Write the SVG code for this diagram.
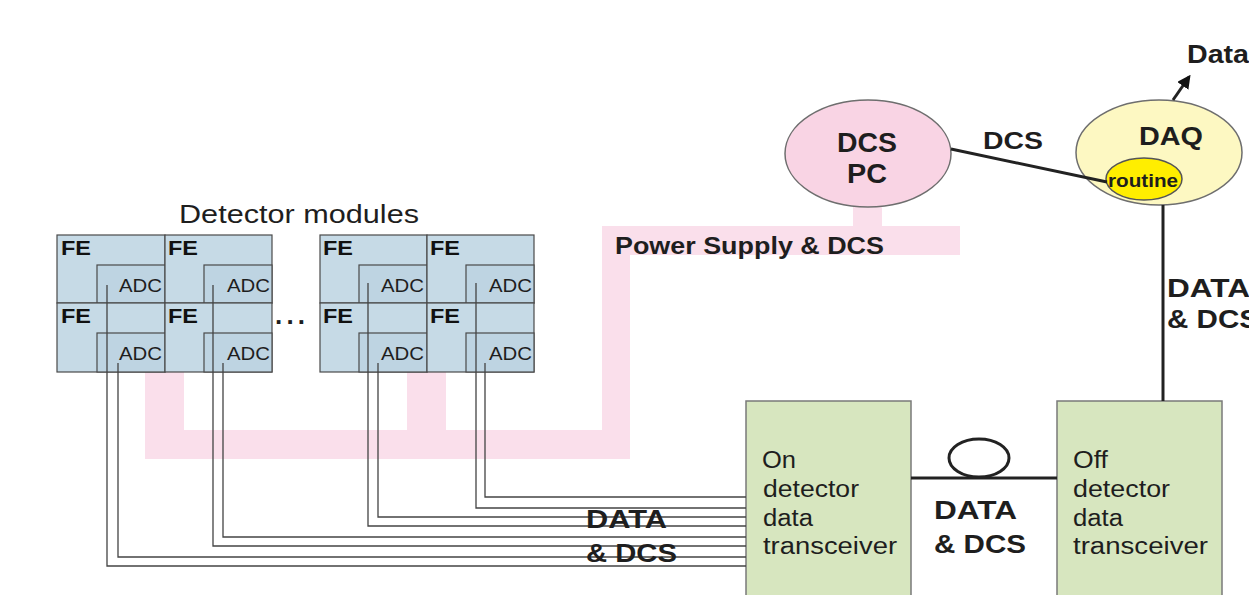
<svg xmlns="http://www.w3.org/2000/svg" width="1249" height="595" viewBox="0 0 1249 595">
<defs>
<style>
.fe{fill:#c6dae6;stroke:#4a4a4a;stroke-width:1.2}
.adc{fill:#bed4e2;stroke:#4a4a4a;stroke-width:1.2}
.t{font-family:"Liberation Sans",Arial,sans-serif;fill:#1e1e1e}
.b{font-weight:bold}
.fel{font-size:21px;font-weight:bold;fill:#111}
.adcl{font-size:18px}
.box{fill:#d7e6bf;stroke:#7a7a7a;stroke-width:1.5}
.pink{fill:#fadfeb}
.wire{fill:none;stroke:#444;stroke-width:1.3}
.thick{fill:none;stroke:#222;stroke-width:3}
.bt{font-size:23px}
</style>
<marker id="ah" viewBox="0 0 10 10" refX="8" refY="5" markerWidth="4.5" markerHeight="4.5" orient="auto">
<path d="M0,0 L10,5 L0,10 z" fill="#111"/>
</marker>
</defs>
<rect width="1249" height="595" fill="#fff"/>

<g id="power-supply">
<rect class="pink" x="145" y="372" width="39" height="87"/>
<rect class="pink" x="407" y="372" width="39" height="58"/>
<rect class="pink" x="145" y="430" width="485" height="29"/>
<rect class="pink" x="602" y="226" width="28" height="233"/>
<rect class="pink" x="602" y="226" width="358" height="29"/>
<rect class="pink" x="853" y="200" width="29" height="26"/>
<text class="t b" x="615" y="254" font-size="23" textLength="269" lengthAdjust="spacingAndGlyphs">Power Supply &amp; DCS</text>
</g>

<text class="t" x="179" y="223" font-size="25" textLength="240" lengthAdjust="spacingAndGlyphs">Detector modules</text>

<g id="module-1">
<rect class="fe" x="57" y="235" width="108" height="68"/>
<rect class="adc" x="97" y="265" width="68" height="38"/>
<text class="t fel" x="61" y="255" textLength="30" lengthAdjust="spacingAndGlyphs">FE</text>
<text class="t adcl" x="119" y="292" textLength="43" lengthAdjust="spacingAndGlyphs">ADC</text>
</g>
<g id="module-2">
<rect class="fe" x="165" y="235" width="107" height="68"/>
<rect class="adc" x="204" y="265" width="68" height="38"/>
<text class="t fel" x="168" y="255" textLength="30" lengthAdjust="spacingAndGlyphs">FE</text>
<text class="t adcl" x="227" y="292" textLength="43" lengthAdjust="spacingAndGlyphs">ADC</text>
</g>
<g id="module-3">
<rect class="fe" x="57" y="303" width="108" height="69"/>
<rect class="adc" x="97" y="333" width="68" height="39"/>
<text class="t fel" x="61" y="323" textLength="30" lengthAdjust="spacingAndGlyphs">FE</text>
<text class="t adcl" x="119" y="360" textLength="43" lengthAdjust="spacingAndGlyphs">ADC</text>
</g>
<g id="module-4">
<rect class="fe" x="165" y="303" width="107" height="69"/>
<rect class="adc" x="204" y="333" width="68" height="39"/>
<text class="t fel" x="168" y="323" textLength="30" lengthAdjust="spacingAndGlyphs">FE</text>
<text class="t adcl" x="227" y="360" textLength="43" lengthAdjust="spacingAndGlyphs">ADC</text>
</g>

<text class="t b" x="275" y="324" font-size="26" fill="#111" textLength="30" lengthAdjust="spacing">...</text>

<g id="module-5">
<rect class="fe" x="320" y="235" width="107" height="68"/>
<rect class="adc" x="359" y="265" width="68" height="38"/>
<text class="t fel" x="323" y="255" textLength="30" lengthAdjust="spacingAndGlyphs">FE</text>
<text class="t adcl" x="381" y="292" textLength="43" lengthAdjust="spacingAndGlyphs">ADC</text>
</g>
<g id="module-6">
<rect class="fe" x="427" y="235" width="107" height="68"/>
<rect class="adc" x="466" y="265" width="68" height="38"/>
<text class="t fel" x="430" y="255" textLength="30" lengthAdjust="spacingAndGlyphs">FE</text>
<text class="t adcl" x="489" y="292" textLength="43" lengthAdjust="spacingAndGlyphs">ADC</text>
</g>
<g id="module-7">
<rect class="fe" x="320" y="303" width="107" height="69"/>
<rect class="adc" x="359" y="333" width="68" height="39"/>
<text class="t fel" x="323" y="323" textLength="30" lengthAdjust="spacingAndGlyphs">FE</text>
<text class="t adcl" x="381" y="360" textLength="43" lengthAdjust="spacingAndGlyphs">ADC</text>
</g>
<g id="module-8">
<rect class="fe" x="427" y="303" width="107" height="69"/>
<rect class="adc" x="466" y="333" width="68" height="39"/>
<text class="t fel" x="430" y="323" textLength="30" lengthAdjust="spacingAndGlyphs">FE</text>
<text class="t adcl" x="489" y="360" textLength="43" lengthAdjust="spacingAndGlyphs">ADC</text>
</g>

<g id="dcs-pc">
<ellipse cx="868" cy="153.5" rx="83" ry="53.5" fill="#f9d4e4" stroke="#6e6e6e" stroke-width="1.5"/>
<text class="t b" x="837" y="152" font-size="27" textLength="60" lengthAdjust="spacingAndGlyphs">DCS</text>
<text class="t b" x="847" y="183" font-size="27" textLength="40" lengthAdjust="spacingAndGlyphs">PC</text>
</g>

<g id="daq">
<ellipse cx="1159" cy="152.5" rx="83" ry="52.5" fill="#fdf8c2" stroke="#6e6e6e" stroke-width="1.5"/>
<text class="t b" x="1139" y="145" font-size="25" textLength="64" lengthAdjust="spacingAndGlyphs">DAQ</text>
</g>
<g id="routine">
<ellipse cx="1144" cy="179" rx="38" ry="21" fill="#ffee00" stroke="#555" stroke-width="1.5"/>
<text class="t b" x="1108" y="187" font-size="18" textLength="70" lengthAdjust="spacingAndGlyphs">routine</text>
</g>

<g id="on-detector">
<rect class="box" x="746" y="401" width="165" height="200"/>
<text class="t bt" x="762" y="468" textLength="34" lengthAdjust="spacingAndGlyphs">On</text>
<text class="t bt" x="763" y="497" textLength="96" lengthAdjust="spacingAndGlyphs">detector</text>
<text class="t bt" x="763" y="526" textLength="50" lengthAdjust="spacingAndGlyphs">data</text>
<text class="t bt" x="763" y="554" textLength="134" lengthAdjust="spacingAndGlyphs">transceiver</text>
</g>

<g id="off-detector">
<rect class="box" x="1057" y="401" width="165" height="200"/>
<text class="t bt" x="1073" y="468" textLength="35" lengthAdjust="spacingAndGlyphs">Off</text>
<text class="t bt" x="1073" y="497" textLength="97" lengthAdjust="spacingAndGlyphs">detector</text>
<text class="t bt" x="1073" y="526" textLength="50" lengthAdjust="spacingAndGlyphs">data</text>
<text class="t bt" x="1073" y="554" textLength="135" lengthAdjust="spacingAndGlyphs">transceiver</text>
</g>

<g id="connectors">
<polyline class="wire" points="107,285 107,566 746,566"/>
<polyline class="wire" points="118,363 118,557 746,557"/>
<polyline class="wire" points="213,285 213,546 746,546"/>
<polyline class="wire" points="223,363 223,537 746,537"/>
<polyline class="wire" points="368,283 368,526 746,526"/>
<polyline class="wire" points="378,363 378,517 746,517"/>
<polyline class="wire" points="476,283 476,508 746,508"/>
<polyline class="wire" points="485,363 485,497 746,497"/>
<line class="thick" x1="951" y1="149" x2="1107" y2="182"/>
<line class="thick" x1="1163" y1="205" x2="1163" y2="401"/>
<line class="thick" x1="911" y1="478" x2="1057" y2="478"/>
<ellipse class="thick" cx="979" cy="458" rx="30" ry="19" fill="#fff"/>
<line class="thick" x1="1173" y1="100" x2="1189" y2="77" marker-end="url(#ah)"/>
</g>

<g id="labels">
<text class="t b" x="1187" y="63" font-size="25" textLength="62" lengthAdjust="spacingAndGlyphs">Data</text>
<text class="t b" x="983" y="149" font-size="24" textLength="60" lengthAdjust="spacingAndGlyphs">DCS</text>
<text class="t b" x="1167" y="297" font-size="26" textLength="83" lengthAdjust="spacingAndGlyphs">DATA</text>
<text class="t b" x="1167" y="328" font-size="26" textLength="92" lengthAdjust="spacingAndGlyphs">&amp; DCS</text>
<text class="t b" x="934" y="519" font-size="26" textLength="83" lengthAdjust="spacingAndGlyphs">DATA</text>
<text class="t b" x="934" y="553" font-size="26" textLength="92" lengthAdjust="spacingAndGlyphs">&amp; DCS</text>
<text class="t b" x="586" y="528" font-size="26" textLength="81" lengthAdjust="spacingAndGlyphs">DATA</text>
<text class="t b" x="586" y="562" font-size="26" textLength="91" lengthAdjust="spacingAndGlyphs">&amp; DCS</text>
</g>
</svg>
